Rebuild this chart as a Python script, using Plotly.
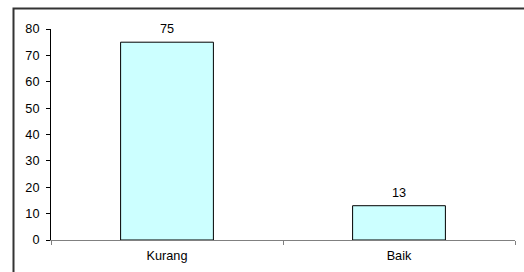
import plotly.graph_objects as go

categories = ["Kurang", "Baik"]
values = [75, 13]
y_ticks = [0, 10, 20, 30, 40, 50, 60, 70, 80]

W, H = 524, 272
ml, mr, mt, mb = 51, 9, 29, 32
pw = W - ml - mr
ph = H - mt - mb
FONT = "Liberation Sans, Arial"
FS = 12.7

fig = go.Figure()
fig.add_trace(go.Bar(
    x=categories, y=values, width=0.4,
    marker=dict(color="#CCFFFF", line=dict(color="#000000", width=1)),
    hoverinfo="skip",
))

for c, v in zip(categories, values):
    fig.add_annotation(x=c, y=v, text=str(v), showarrow=False,
                       yanchor="middle", yshift=13,
                       font=dict(family=FONT, size=FS, color="#000000"))

# outer chart-area border (extends beyond the visible window)
bx = (13.5 - ml) / pw
by = (H - mb - 8.5) / ph
fig.add_shape(type="rect", xref="paper", yref="paper",
              x0=bx, x1=1.2, y0=-0.5, y1=by,
              line=dict(color="#333333", width=2), layer="below")

fig.update_layout(
    width=W, height=H,
    margin=dict(l=ml, r=mr, t=mt, b=mb, autoexpand=False),
    paper_bgcolor="white", plot_bgcolor="white",
    showlegend=False,
    font=dict(family=FONT, size=FS, color="#000000"),
)
fig.update_xaxes(
    type="category", tickson="boundaries", ticks="outside", ticklen=4,
    tickcolor="#808080", showline=True, linecolor="#808080", linewidth=1,
    showgrid=False, zeroline=False, automargin=False, ticklabelstandoff=4,
    tickfont=dict(family=FONT, size=FS, color="#000000"),
)
fig.update_yaxes(
    range=[0, 80], tickvals=y_ticks, ticks="outside", ticklen=4,
    tickcolor="#000000", showline=True, linecolor="#000000", linewidth=1,
    showgrid=False, zeroline=False, automargin=False, ticklabelstandoff=4,
    tickfont=dict(family=FONT, size=FS, color="#000000"),
)

fig.write_html("out.html", config={"displayModeBar": False},
               post_script="document.body.style.margin='0';document.body.style.overflow='hidden';")
